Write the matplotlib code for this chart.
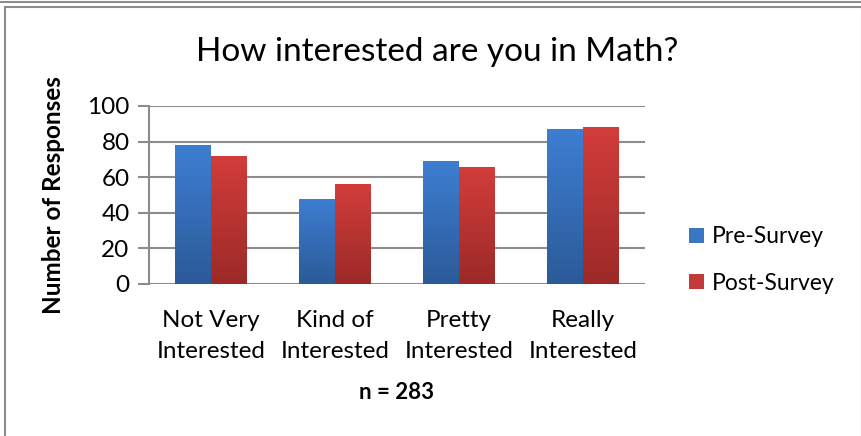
import matplotlib
matplotlib.use("Agg")
import matplotlib.pyplot as plt
import numpy as np
from matplotlib.patches import Rectangle, Patch
from matplotlib.colors import LinearSegmentedColormap

categories = ["Not Very\nInterested", "Kind of\nInterested", "Pretty\nInterested", "Really\nInterested"]
pre_survey = [78, 48, 69, 87]
post_survey = [72, 56, 66, 88]
series_names = ["Pre-Survey", "Post-Survey"]
y_ticks = [0, 20, 40, 60, 80, 100]

plt.rcParams['font.family'] = ['Lato', 'DejaVu Sans']

fig = plt.figure(figsize=(8.62, 4.36), dpi=100)
ax = fig.add_axes([149/862, 1-284/436, (645-149)/862, (284-106)/436])

# outer frames
fig.patches.append(Rectangle((0.006, -0.01), 0.994, 0.995, transform=fig.transFigure,
                             fill=False, edgecolor='#8c8c8c', linewidth=1.5))
fig.lines.append(plt.Line2D([0, 1], [0.996, 0.996], transform=fig.transFigure,
                            color='#8c8c8c', linewidth=1.5))

x = np.arange(len(categories))
w = 0.29
cm_blue = LinearSegmentedColormap.from_list('b', ['#2B5A98', '#3D7ED2'])
cm_red = LinearSegmentedColormap.from_list('r', ['#9C2A28', '#D23D3A'])
grad = np.linspace(0, 1, 256).reshape(-1, 1)

for vals, off, cmap, col in [(pre_survey, -w/2, cm_blue, '#3A76C4'),
                             (post_survey, w/2, cm_red, '#C43A38')]:
    bars = ax.bar(x + off, vals, width=w, color=col, zorder=3, linewidth=0)
    for b in bars:
        x0, y0 = b.get_x(), b.get_y()
        im = ax.imshow(grad, cmap=cmap, origin='lower', aspect='auto',
                       extent=[x0, x0 + b.get_width(), y0, y0 + b.get_height()],
                       zorder=4)
        im.set_clip_path(b)

ax.set_xlim(-0.5, 3.5)
ax.set_ylim(0, 100)
ax.set_yticks(y_ticks)
ax.set_xticks(x)
ax.set_xticklabels(categories, fontsize=17.5, linespacing=1.55)
ax.tick_params(axis='y', labelsize=17.5, length=8, color='#8c8c8c', width=1.5, pad=6)
ax.tick_params(axis='x', length=0, pad=19)
ax.yaxis.grid(True, color='#8c8c8c', linewidth=1.5, zorder=0)
ax.set_axisbelow(True)
for s in ['top', 'right', 'bottom']:
    ax.spines[s].set_visible(False)
ax.spines['left'].set_color('#8c8c8c')
ax.spines['left'].set_linewidth(1.5)

fig.text(437/862, 1-52/436, "How interested are you in Math?", fontsize=24,
         ha='center', va='center')
fig.text(54/862, 1-195/436, "Number of Responses", fontsize=17.5, fontweight='bold',
         rotation=90, ha='center', va='center')
fig.text(397/862, 1-392/436, "n = 283", fontsize=16, fontweight='bold', ha='center', va='center')

handles = [Patch(facecolor='#3A76C4'), Patch(facecolor='#C43A38')]
fig.legend(handles, series_names, loc='center left', bbox_to_anchor=(689/862, 1-260/436),
           frameon=False, fontsize=16.5, handlelength=0.65, handleheight=0.65,
           handletextpad=0.35, labelspacing=1.1, borderpad=0, borderaxespad=0)

fig.savefig("out.png", dpi=100)
